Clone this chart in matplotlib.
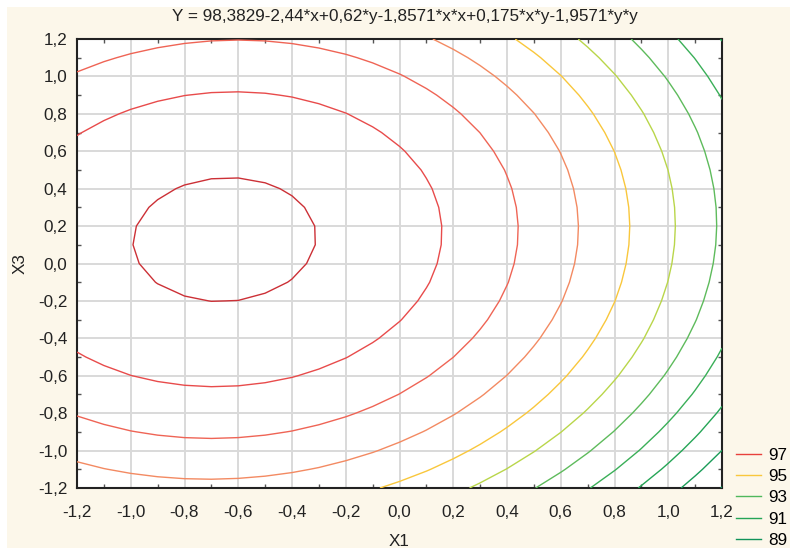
import numpy as np
import matplotlib
matplotlib.use("Agg")
import matplotlib.pyplot as plt
from matplotlib.patches import Rectangle
from matplotlib.lines import Line2D
from matplotlib.ticker import MultipleLocator, FuncFormatter

plt.rcParams['font.family'] = ['Liberation Sans', 'DejaVu Sans']

# Fitted surface coefficients (from the title)
b0 = 98.3829
b_x = -2.44
b_y = 0.62
b_xx = -1.8571
b_xy = 0.175
b_yy = -1.9571

contour_levels = [89, 90, 91, 92, 93, 94, 95, 96, 97, 98, 99]
level_colors = ['#11935a', '#1a9c58', '#25a556', '#3aaf58', '#5ebb5c', '#b9d64a',
                '#f9c73c', '#f38a62', '#ef6455', '#e84b4b', '#cc3036']
legend_levels = ['97', '95', '93', '91', '89']
legend_colors = ['#e8403c', '#f9c73c', '#4fb85c', '#25a556', '#11935a']

title = "Y = 98,3829-2,44*x+0,62*y-1,8571*x*x+0,175*x*y-1,9571*y*y"

FS = 12.3
W, H = 790, 548
fig = plt.figure(figsize=(W / 100, H / 100), dpi=100, facecolor='white')
fig.patches.append(Rectangle((7 / W, 0), 1 - 7 / W, 1 - 7 / H, transform=fig.transFigure,
                             facecolor='#fcf7ea', edgecolor='none', zorder=-10))

ax = fig.add_axes([77 / W, 1 - 488 / H, (722 - 77) / W, (488 - 39) / H])
ax.set_facecolor('white')

gx = np.linspace(-1.2, 1.2, 25)
gy = np.linspace(-1.2, 1.2, 25)
X, Y = np.meshgrid(gx, gy)
Z = b0 + b_x * X + b_y * Y + b_xx * X * X + b_xy * X * Y + b_yy * Y * Y

ax.contour(X, Y, Z, levels=contour_levels, colors=level_colors, linewidths=1.0, zorder=3)

ax.set_xlim(-1.2, 1.2)
ax.set_ylim(-1.2, 1.2)
ax.xaxis.set_major_locator(MultipleLocator(0.2))
ax.yaxis.set_major_locator(MultipleLocator(0.2))
ax.xaxis.set_minor_locator(MultipleLocator(0.1))
ax.yaxis.set_minor_locator(MultipleLocator(0.1))
fmt = FuncFormatter(lambda v, p: ("%.1f" % (0.0 if abs(v) < 1e-9 else v)).replace('.', ','))
ax.xaxis.set_major_formatter(fmt)
ax.yaxis.set_major_formatter(fmt)
ax.grid(True, which='major', color='#d9d9d9', linewidth=1.4, zorder=1)
ax.set_axisbelow(True)
ax.tick_params(which='both', direction='in', top=True, right=True, colors='#555555',
               labelcolor='#222222', labelsize=FS)
ax.tick_params(axis='x', which='major', length=0, pad=12)
ax.tick_params(axis='y', which='major', length=0, pad=7)
ax.tick_params(which='minor', length=3, width=1)
for s in ax.spines.values():
    s.set_color('#222222')
    s.set_linewidth(1.5)

ax.set_xlabel('X1', fontsize=FS, color='#222222', labelpad=10)
ax.set_ylabel('X3', fontsize=FS, color='#222222', labelpad=7)
fig.text(0.512, 1 - 17 / H, title, ha='center', va='center', fontsize=FS, color='#222222')

handles = [Line2D([], [], color=c, linewidth=1.0) for c in legend_colors]
fig.legend(handles, legend_levels, loc='lower left', bbox_to_anchor=(736 / W, 0 / H),
           frameon=False, fontsize=FS, handlelength=1.45, handletextpad=0.45,
           labelspacing=0.37, borderaxespad=0, borderpad=0)

fig.savefig('out.png', dpi=100, facecolor=fig.get_facecolor())
